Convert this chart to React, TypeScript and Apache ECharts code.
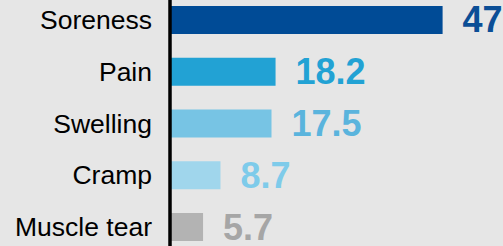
import React, { useEffect, useRef } from "react";
import * as echarts from "echarts";

const categories = ["Soreness", "Pain", "Swelling", "Cramp", "Muscle tear"];
const values = [47, 18.2, 17.5, 8.7, 5.7];
const barColors = ["#004b96", "#22a2d4", "#77c4e4", "#a0d6ec", "#b3b3b3"];
const labelColors = ["#0b4e96", "#22a2d4", "#5ab4dd", "#7ecbea", "#a6a6a6"];

export default function App() {
  const ref = useRef<HTMLDivElement>(null);
  useEffect(() => {
    document.body.style.margin = "0";
    document.body.style.overflow = "hidden";
    document.body.style.background = "#e6e6e6";
    const chart = echarts.init(ref.current!, null, { renderer: "svg" });
    chart.setOption({
      animation: false,
      backgroundColor: "#e6e6e6",
      grid: { left: 170, top: 0, width: 290, height: 259, containLabel: false },
      xAxis: {
        type: "value",
        min: 0,
        max: 50,
        show: false,
      },
      yAxis: {
        type: "category",
        data: categories,
        inverse: true,
        z: 10,
        axisLine: { show: true, lineStyle: { color: "#000", width: 3.5 } },
        axisTick: { show: false },
        splitLine: { show: false },
        axisLabel: {
          margin: 18,
          color: "#000",
          fontSize: 26.5,
          fontFamily: "Liberation Sans, Arial, sans-serif",
        },
      },
      series: [
        {
          type: "bar",
          barWidth: 28,
          data: values.map((v, i) => ({
            value: v,
            itemStyle: { color: barColors[i] },
            label: { color: labelColors[i] },
          })),
          label: {
            show: true,
            position: "right",
            distance: 20,
            fontSize: 36,
            fontWeight: "bold",
            fontFamily: "Liberation Sans, Arial, sans-serif",
          },
        },
      ],
    });
    return () => chart.dispose();
  }, []);
  return (
    <div
      ref={ref}
      style={{ position: "absolute", left: 0, top: -6, width: 503, height: 259 }}
    />
  );
}
